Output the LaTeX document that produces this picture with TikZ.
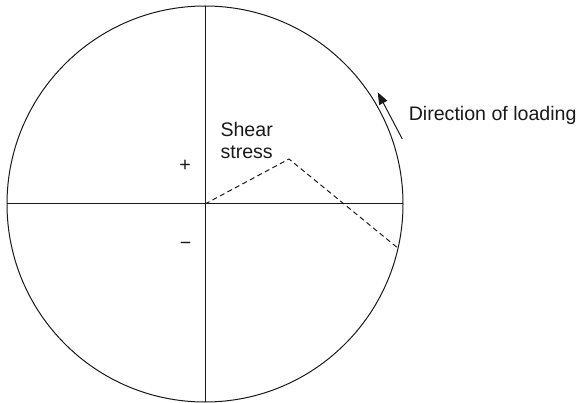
\documentclass[tikz,border=0pt]{standalone}
\usepackage{fontspec}
\setmainfont{Liberation Sans}
\usepackage{tikz}
\usetikzlibrary{arrows.meta, positioning, calc}
\definecolor{sline}{HTML}{1A1A1A}

\begin{document}
\begin{tikzpicture}[x=1pt, y=1pt, line width=1pt,
  lbl/.style={font=\fontsize{19.6}{21.2}\selectfont, text=sline, inner sep=0pt}]
\useasboundingbox (0,0) rectangle (578,402);
\coordinate (centre) at (205,198);
\coordinate (top) at (205,396);
\coordinate (bottom) at (205,0);
\coordinate (west) at (7,198);
\coordinate (east) at (403,198);
\draw[sline] (centre) circle (198);
\draw[sline] (top) -- (bottom);
\draw[sline] (west) -- (east);
% shear stress path
\coordinate (peak) at (289,243);
\coordinate (rim) at ($(centre)+(-12.9:198)$);
\draw[sline, dash pattern=on 5pt off 3.5pt] (centre) -- (peak) -- (rim);
\node[lbl, anchor=base west, align=left] (shear) at (220,243.8) {Shear\\stress};
\node[lbl] (plus) at (185,236.5) {+};
\node[lbl] (minus) at (185.7,155.7) {−};
% loading arrow
\coordinate (loadtail) at (402.3,263);
\coordinate (loadtip) at (377.7,309.7);
\draw[sline, -{Triangle[length=12pt, width=9pt]}] (loadtail) -- (loadtip);
\node[lbl, anchor=base west] (loading) at (408.3,281.3) {Direction of loading};
\end{tikzpicture}
\end{document}
